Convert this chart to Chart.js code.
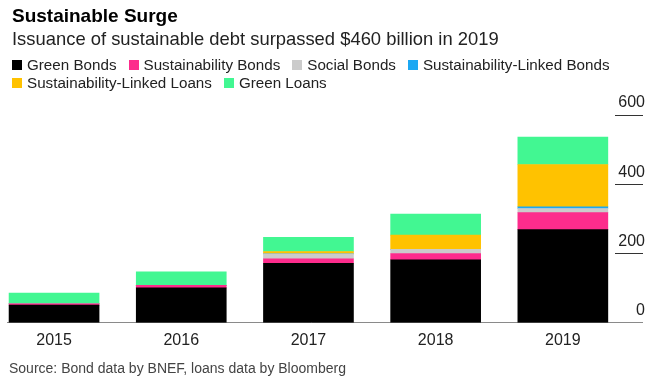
<!DOCTYPE html>
<html>
<head>
<meta charset="utf-8">
<script src="https://cdn.jsdelivr.net/npm/chart.js@4/dist/chart.umd.min.js"></script>
<style>
	body { margin: 0; background: #fff; font-family: "Liberation Sans", Arial, sans-serif; }
	#wrap { position: relative; width: 658px; height: 381px; }
	#myChart { position: absolute; left: 0; top: 0; }
	.title { position: absolute; left: 12px; top: 5px; font-size: 19px; font-weight: bold; color: #000; }
	.sub { position: absolute; left: 12px; top: 28px; font-size: 18.4px; color: #222; }
	#legend { position: absolute; left: 12px; top: 56px; width: 630px; display: flex; flex-wrap: wrap; font-size: 15.2px; color: #222; line-height: 18px; }
	#legend span.item { display: inline-flex; align-items: center; margin-right: 12px; }
	#legend span.box { width: 10px; height: 10px; margin-right: 5px; display: inline-block; }
	.source { position: absolute; left: 9px; top: 360px; font-size: 14px; color: #444; }
</style>
</head>
<body>
<div id="wrap">
	<canvas id="myChart" width="658" height="381"></canvas>
	<div class="title">Sustainable Surge</div>
	<div class="sub">Issuance of sustainable debt surpassed $460 billion in 2019</div>
	<div id="legend"></div>
	<div class="source">Source: Bond data by BNEF, loans data by Bloomberg</div>
</div>
<script>
// values in billions of dollars
const years = [2015, 2016, 2017, 2018, 2019];
const greenBonds = [51, 101, 172, 182, 269];
const sustainabilityBonds = [4, 7, 13, 18, 49];
const socialBonds = [0, 0, 14, 12, 12];
const slBonds = [0, 0, 0, 0, 5];
const slLoans = [0, 0, 7, 41, 122];
const greenLoans = [31, 39, 41, 61, 79];
const yTicks = [0, 200, 400, 600];

const series = [
	{name: 'Green Bonds', values: greenBonds, color: '#000000'},
	{name: 'Sustainability Bonds', values: sustainabilityBonds, color: '#fd2c8c'},
	{name: 'Social Bonds', values: socialBonds, color: '#cbcbcb'},
	{name: 'Sustainability-Linked Bonds', values: slBonds, color: '#1ca8f3'},
	{name: 'Sustainability-Linked Loans', values: slLoans, color: '#ffc200'},
	{name: 'Green Loans', values: greenLoans, color: '#42f792'}
];

// html legend built from the series
let legend = document.getElementById('legend');
series.forEach(function(s) {
	let item = document.createElement('span');
	item.className = 'item';
	item.innerHTML = '<span class="box" style="background:' + s.color + '"></span>' + s.name;
	legend.appendChild(item);
});

const font = {family: '"Liberation Sans", Arial, sans-serif', size: 16};

let ctx = document.getElementById('myChart');
let myChart = new Chart(ctx, {
	type: 'bar',
	data: {
		datasets: series.map(s => ({
			label: s.name,
			data: years.map((y, i) => ({x: y, y: s.values[i]})),
			backgroundColor: s.color,
			borderWidth: 0,
			barThickness: 90
		}))
	},
	options: {
		responsive: false,
		animation: false,
		layout: {padding: {left: 7, right: 13, top: 115, bottom: 23}},
		plugins: {legend: {display: false}, tooltip: {enabled: false}},
		scales: {
			x: {
				type: 'linear',
				stacked: true,
				offset: false,
				min: 2014.63,
				max: 2019.41,
				grid: {display: false, drawTicks: false, offset: false},
				border: {display: true, color: '#8a8a8a', width: 1},
				afterBuildTicks: (axis) => { axis.ticks = years.map(v => ({value: v})); },
				ticks: {
					color: '#222',
					font: font,
					padding: 8,
					callback: (v) => String(v)
				}
			},
			y: {
				position: 'right',
				stacked: true,
				min: 0,
				max: 600,
				afterBuildTicks: (axis) => { axis.ticks = yTicks.map(v => ({value: v})); },
				afterFit: (axis) => { axis.width = 30; },
				grid: {
					drawOnChartArea: false,
					drawTicks: true,
					tickLength: 28,
					color: (c) => (c.tick && c.tick.value === 0) ? '#8a8a8a' : '#333',
					lineWidth: 1
				},
				border: {display: false},
				ticks: {
					color: '#222',
					font: font,
					padding: -29,
					crossAlign: 'far',
					labelOffset: -12
				}
			}
		}
	}
});
</script>
</body>
</html>
